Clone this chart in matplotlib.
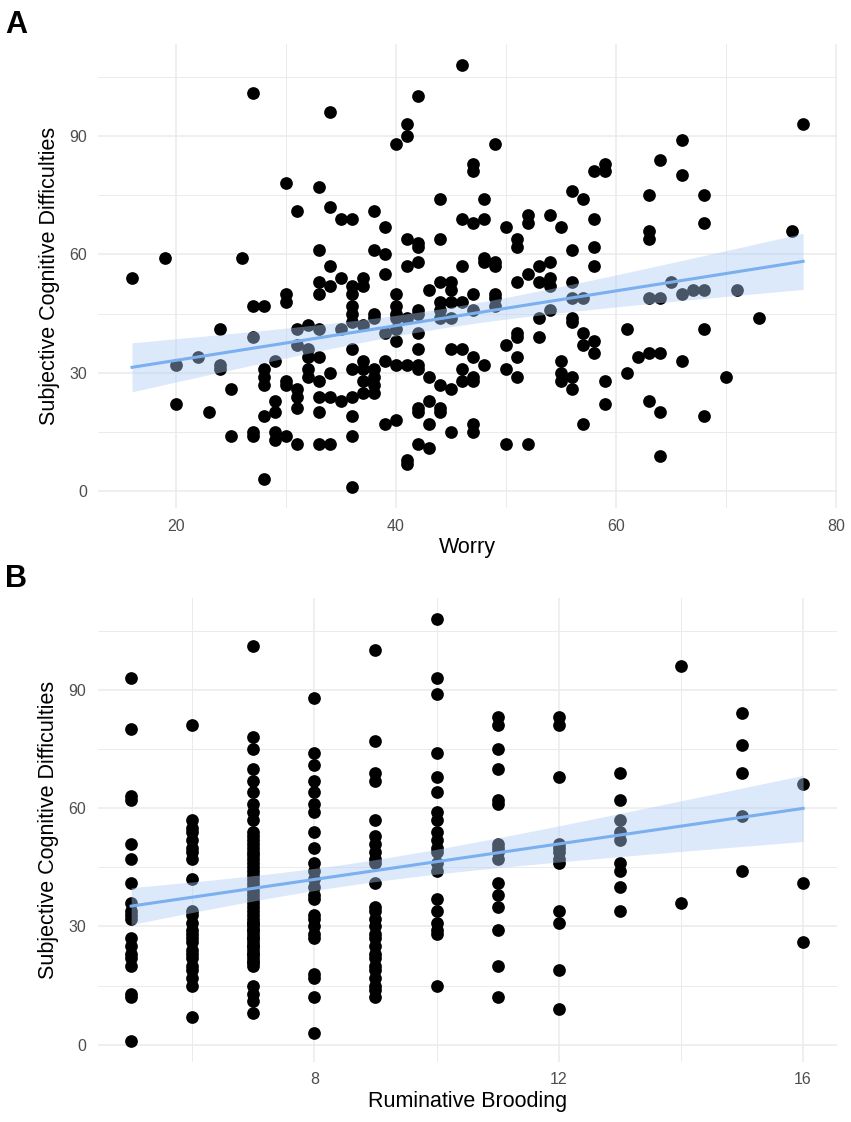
import numpy as np
import matplotlib.pyplot as plt

#------------------------------------------------------------------#
# Dados
#------------------------------------------------------------------#
# Painel A: (Worry, Subjective Cognitive Difficulties)
worry_pts = [
    (27, 101), (34, 96), (30, 78), (33, 77), (31, 71), (34, 72), (35, 69), (36, 69),
    (19, 59), (26, 59), (33, 61), (34, 57),
    (16, 54), (33, 53), (34, 52), (35, 54), (36, 52), (33, 50), (30, 50), (30, 48),
    (27, 47), (28, 47), (36, 50), (36, 47), (36, 45), (36, 43), (24, 41), (27, 39),
    (31, 41), (32, 42), (33, 41), (35, 41), (20, 32), (22, 34), (24, 32), (24, 31),
    (31, 37), (32, 36), (29, 33), (28, 31), (28, 29), (28, 27), (32, 34), (33, 34),
    (32, 31), (32, 29), (34, 30), (33, 28), (36, 36), (36, 31), (25, 26), (30, 28),
    (30, 27), (31, 26), (31, 24), (20, 22), (23, 20), (29, 23), (29, 20), (28, 19),
    (31, 21), (33, 24), (34, 24), (35, 23), (36, 24), (33, 20), (36, 19), (25, 14),
    (27, 15), (27, 14), (29, 15), (29, 13), (30, 14), (31, 12), (33, 12), (34, 12),
    (36, 14), (28, 3), (36, 1),
    (37, 54), (37, 52), (37, 42), (37, 33), (37, 31), (37, 28), (37, 25),
    (38, 71), (38, 61), (38, 45), (38, 44), (38, 31), (38, 29), (38, 27), (38, 25),
    (46, 108), (42, 100), (41, 93), (41, 90), (40, 88), (49, 88), (47, 83), (47, 81),
    (58, 81), (59, 83), (59, 81), (44, 74), (48, 74), (39, 67), (46, 69), (47, 68),
    (48, 69), (50, 67), (52, 70), (52, 68), (54, 70), (55, 67), (56, 76), (57, 74),
    (58, 69), (41, 64), (42, 63), (42, 62), (44, 64), (51, 64), (51, 62), (56, 61),
    (58, 62), (39, 60), (41, 57), (42, 58), (46, 57), (48, 59), (48, 58), (49, 58),
    (49, 57), (52, 55), (53, 57), (54, 58), (58, 57), (39, 55),
    (40, 50), (40, 47), (40, 45), (40, 44), (41, 44), (42, 46), (42, 45), (39, 40),
    (40, 41), (40, 38), (42, 40), (42, 36), (43, 51), (44, 53), (44, 48), (44, 46),
    (44, 44), (45, 53), (45, 51), (45, 48), (45, 44), (46, 48), (47, 50), (47, 46),
    (49, 50), (49, 49), (49, 47), (51, 53), (53, 53), (54, 54), (54, 52), (56, 53),
    (56, 49), (57, 49), (53, 44), (54, 46), (56, 44), (56, 43), (53, 39), (51, 40),
    (51, 39), (50, 37), (51, 34), (50, 31), (51, 29), (57, 40), (57, 37), (58, 38),
    (58, 35), (55, 33), (55, 30), (55, 28), (56, 29), (56, 26), (59, 28), (59, 22),
    (57, 17), (45, 36), (46, 36), (47, 34), (48, 32), (46, 31), (46, 28), (47, 29),
    (47, 28), (39, 33), (40, 32), (41, 32), (42, 32), (42, 31), (43, 29), (44, 27),
    (45, 26), (43, 23), (42, 21), (42, 20), (44, 21), (44, 20), (43, 17), (39, 17),
    (40, 18), (45, 15), (47, 17), (47, 15), (42, 12), (43, 11), (41, 8), (41, 7),
    (50, 12), (52, 12),
    (64, 84), (66, 89), (66, 80), (63, 75), (68, 75), (63, 66), (63, 64), (68, 68),
    (76, 66), (77, 93),
    (65, 53), (63, 49), (64, 49), (66, 50), (67, 51), (68, 51), (71, 51), (73, 44),
    (61, 41), (68, 41), (62, 34), (63, 35), (64, 35), (66, 33), (61, 30), (70, 29),
    (63, 23), (64, 20), (68, 19), (64, 9),
]

# Painel B: niveis de Ruminative Brooding e os escores em cada nivel
brood_levels = [5, 6, 7, 8, 9, 10, 11, 12, 13, 14, 15, 16]
brood_scores = [
    [93, 80, 63, 62, 51, 47, 41, 36, 34, 33, 32, 27, 25, 23, 22, 20, 13, 12, 1],
    [81, 57, 55, 54, 52, 50, 49, 47, 42, 34, 33, 31, 29, 28, 27, 26, 24, 23, 22, 20,
     19, 17, 15, 7],
    [101, 78, 75, 70, 67, 64, 61, 59, 57, 54, 53, 52, 51, 50, 49, 48, 47, 46, 45, 44,
     43, 42, 41, 40, 39, 38, 37, 36, 35, 34, 33, 32, 31, 31, 30, 29, 29, 28, 27, 27,
     26, 25, 25, 24, 23, 23, 22, 21, 21, 20, 15, 13, 11, 8],
    [88, 74, 71, 67, 64, 61, 59, 54, 50, 46, 44, 42, 40, 38, 37, 33, 32, 30, 28, 27,
     18, 17, 12, 3],
    [100, 77, 69, 67, 57, 53, 51, 49, 47, 46, 41, 35, 34, 32, 30, 28, 27, 25, 23, 22,
     20, 19, 17, 15, 14, 12],
    [108, 93, 89, 74, 68, 64, 59, 57, 54, 52, 50, 49, 46, 44, 37, 34, 31, 29, 28, 15],
    [83, 81, 75, 70, 62, 61, 51, 50, 49, 47, 41, 38, 35, 29, 20, 12],
    [83, 81, 68, 51, 50, 49, 47, 46, 34, 31, 19, 9],
    [69, 62, 57, 54, 52, 46, 44, 40, 34],
    [96, 36],
    [84, 76, 69, 58, 44],
    [66, 41, 26],
]

y_label = 'Subjective Cognitive Difficulties'

#------------------------------------------------------------------#
# Funcoes
#------------------------------------------------------------------#
plt.rcParams['font.family'] = ['Liberation Sans', 'DejaVu Sans']


def fit_band(x, y, grid):
    # reta de minimos quadrados + IC 95% da media (como geom_smooth lm)
    b, a = np.polyfit(x, y, 1)
    n = len(x)
    res = y - (a + b * x)
    s = np.sqrt(np.sum(res ** 2) / (n - 2))
    sxx = np.sum((x - x.mean()) ** 2)
    se = s * np.sqrt(1.0 / n + (grid - x.mean()) ** 2 / sxx)
    fit = a + b * grid
    return fit, fit - 1.97 * se, fit + 1.97 * se


def panel(ax, x, y, xlabel, xmajor, xminor, letter):
    ax.scatter(x, y, s=84, c='black', linewidths=0, zorder=2)
    grid = np.linspace(x.min(), x.max(), 100)
    fit, lo, hi = fit_band(x, y, grid)
    ax.fill_between(grid, lo, hi, color='#ADCCF5', alpha=0.42, linewidth=0, zorder=3)
    ax.plot(grid, fit, color='#7AAFF0', lw=2.2, zorder=4)

    # expansao de 5% como no ggplot
    dx = 0.05 * (x.max() - x.min())
    dy = 0.05 * (y.max() - y.min())
    ax.set_xlim(x.min() - dx, x.max() + dx)
    ax.set_ylim(y.min() - dy, y.max() + dy)

    ax.set_xticks(xmajor)
    ax.set_xticks(xminor, minor=True)
    ax.set_yticks([0, 30, 60, 90])
    ax.set_yticks([15, 45, 75, 105], minor=True)
    ax.grid(which='major', color='#EBEBEB', lw=1.1, zorder=0)
    ax.grid(which='minor', color='#EBEBEB', lw=0.7, zorder=0)
    ax.set_axisbelow(True)
    for sp in ax.spines.values():
        sp.set_visible(False)
    ax.tick_params(which='both', length=0, labelsize=11.5, labelcolor='#4D4D4D')
    ax.tick_params(axis='x', pad=7.5)
    ax.tick_params(axis='y', pad=8)

    ax.set_xlabel(xlabel, fontsize=15.5, va='center')
    ax.xaxis.set_label_coords(0.5, -0.085)
    ax.set_ylabel(y_label, fontsize=15.5, va='center')
    ax.yaxis.set_label_coords(-0.066, 0.5)

    pos = ax.get_position()
    ax.figure.text(0.006, pos.y1 + 34.0 / 1122, letter, fontsize=22,
                   fontweight='bold', va='top', ha='left')


#------------------------------------------------------------------#
# Plot
#------------------------------------------------------------------#
wx = np.array([p[0] for p in worry_pts], dtype=float)
wy = np.array([p[1] for p in worry_pts], dtype=float)

bx = np.array([lv for lv, sc in zip(brood_levels, brood_scores) for _ in sc], dtype=float)
by = np.array([v for sc in brood_scores for v in sc], dtype=float)

fig = plt.figure(figsize=(8.51, 11.22), dpi=100)
axA = fig.add_axes([0.1157, 0.5468, 0.8674, 0.4142])
axB = fig.add_axes([0.1146, 0.0535, 0.8686, 0.4138])

panel(axA, wx, wy, 'Worry', [20, 40, 60, 80], [30, 50, 70], 'A')
panel(axB, bx, by, 'Ruminative Brooding', [8, 12, 16], [6, 10, 14], 'B')

fig.savefig('out.png', dpi=100)
